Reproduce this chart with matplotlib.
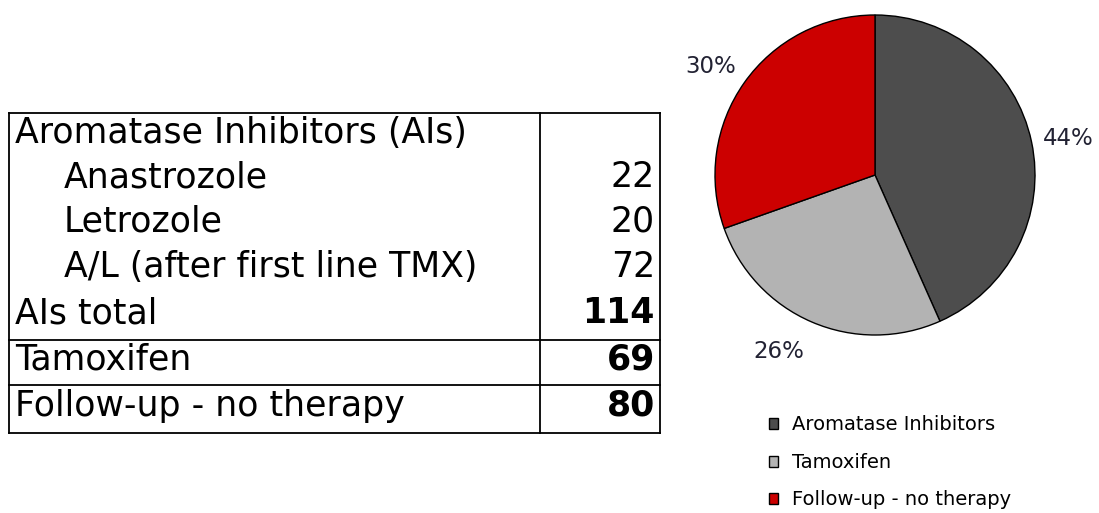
import matplotlib.pyplot as plt

# table data
row_labels = ["Aromatase Inhibitors (AIs)", "Anastrozole", "Letrozole",
              "A/L (after first line TMX)", "AIs total", "Tamoxifen",
              "Follow-up - no therapy"]
row_values = ["", "22", "20", "72", "114", "69", "80"]
row_indent = [False, True, True, True, False, False, False]
row_bold = [False, False, False, False, True, True, True]

# pie data
pie_labels = ["Aromatase Inhibitors", "Tamoxifen", "Follow-up - no therapy"]
pie_values = [114, 69, 80]
pct_labels = ["44%", "26%", "30%"]
pie_colors = ["#4d4d4d", "#b3b3b3", "#cc0000"]

W, H = 1099, 513
fig = plt.figure(figsize=(W / 100, H / 100), dpi=100)
plt.rcParams['font.family'] = ['DejaVu Sans']

# table drawn on a full-figure axes in pixel units
tab = fig.add_axes([0, 0, 1, 1])
tab.set_xlim(0, W)
tab.set_ylim(H, 0)
tab.axis("off")

left, mid, right = 9, 540, 660
top, bottom = 113, 433
row_y = [133, 177, 221, 267, 313, 360, 406]
hlines = [top, 340, 385, bottom]
for y in hlines:
    tab.plot([left, right], [y, y], color="black", lw=1.3)
for x in [left, mid, right]:
    tab.plot([x, x], [top, bottom], color="black", lw=1.3)

for lab, val, ind, bold, y in zip(row_labels, row_values, row_indent, row_bold, row_y):
    tab.text(64 if ind else 15, y, lab, fontsize=25, va="center", ha="left")
    tab.text(655, y, val, fontsize=25, va="center", ha="right",
             fontweight="bold" if bold else "normal")

# pie
cx, cy, r = 875, 175, 160
pax = fig.add_axes([(cx - r) / W, (H - cy - r) / H, 2 * r / W, 2 * r / H])
wedges, texts = pax.pie(pie_values, colors=pie_colors, startangle=90, counterclock=False,
                        labels=pct_labels, labeldistance=1.22,
                        wedgeprops=dict(edgecolor="black", linewidth=1),
                        textprops=dict(fontsize=16.5, color="#222233"))
# nudge percentage labels to where the original sits them
label_pos = [(1.21, 0.23), (-0.6, -1.105), (-1.025, 0.68)]
for t, p in zip(texts, label_pos):
    t.set_ha("center")
    t.set_va("center")
    t.set_position(p)
pax.set_xlim(-1, 1)
pax.set_ylim(-1, 1)

fig.legend(wedges, pie_labels, loc="upper left", bbox_to_anchor=(751 / W, 1 - 398 / H),
           frameon=False, fontsize=14, handlelength=0.5, handleheight=0.5,
           labelspacing=0.95, handletextpad=0.7)

fig.savefig("out.png", dpi=100)
